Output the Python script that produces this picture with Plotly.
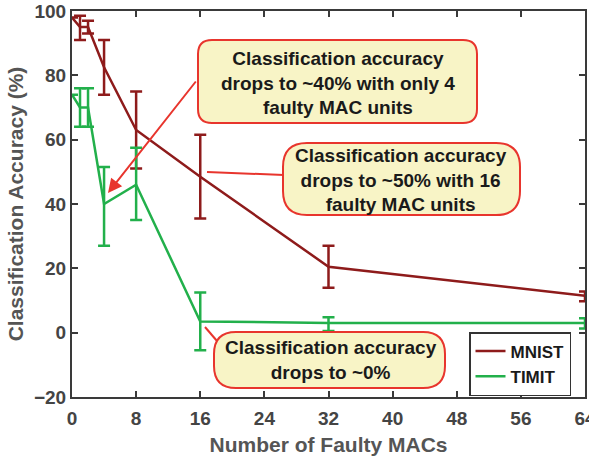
import plotly.graph_objects as go

# ---- data ----
faulty_macs = [0, 1, 2, 4, 8, 16, 32, 64]
mnist_acc = [98, 95, 95, 82.5, 63, 48.5, 20.5, 11.5]
mnist_upper = [98, 98.5, 97, 91, 75, 61.5, 27, 12.8]
mnist_lower = [98, 91, 93, 74, 51, 35.5, 14, 9.8]
timit_acc = [74, 70, 70, 40, 46, 3.5, 3, 3]
timit_upper = [74, 76, 76, 51.5, 57.5, 12.5, 4.8, 4.5]
timit_lower = [74, 64, 64, 27, 35, -5.5, 0.5, 1.3]
x_ticks = [0, 8, 16, 24, 32, 40, 48, 56, 64]
y_ticks = [-20, 0, 20, 40, 60, 80, 100]

note_4 = "Classification accuracy<br>drops to ~40% with only 4<br>faulty MAC units"
note_16 = "Classification accuracy<br>drops to ~50% with 16<br>faulty MAC units"
note_0 = "Classification accuracy<br>drops to ~0%"

W, H = 589, 459
L, R, T, B = 72, 4, 11, 62
PW, PH = W - L - R, H - T - B

MN_COL = "#8E1B1B"
TI_COL = "#22B04B"
RED = "#E8352D"
FILL = "#F8F4C6"
FONT = "Liberation Sans, Arial, sans-serif"


def px(x):
    return (x - L) / PW


def py(y):
    return (H - B - y) / PH


def rounded_rect(x0, y0, x1, y1, r):
    rx, ry = r / PW, r / PH
    X0, X1 = px(x0), px(x1)
    Yt, Yb = py(y0), py(y1)
    return (f"M {X0+rx},{Yt} L {X1-rx},{Yt} Q {X1},{Yt} {X1},{Yt-ry} "
            f"L {X1},{Yb+ry} Q {X1},{Yb} {X1-rx},{Yb} "
            f"L {X0+rx},{Yb} Q {X0},{Yb} {X0},{Yb+ry} "
            f"L {X0},{Yt-ry} Q {X0},{Yt} {X0+rx},{Yt} Z")


def err(vals, up, lo):
    return ([u - v for u, v in zip(up, vals)], [v - l for v, l in zip(vals, lo)])


fig = go.Figure()
mp, mm = err(mnist_acc, mnist_upper, mnist_lower)
tp, tm = err(timit_acc, timit_upper, timit_lower)
fig.add_trace(go.Scatter(
    x=faulty_macs, y=mnist_acc, mode="lines", name="MNIST", cliponaxis=False,
    line=dict(color=MN_COL, width=2.5),
    error_y=dict(type="data", symmetric=False, array=mp, arrayminus=mm,
                 color=MN_COL, thickness=2.5, width=6)))
fig.add_trace(go.Scatter(
    x=faulty_macs, y=timit_acc, mode="lines", name="TIMIT", cliponaxis=False,
    line=dict(color=TI_COL, width=2.5),
    error_y=dict(type="data", symmetric=False, array=tp, arrayminus=tm,
                 color=TI_COL, thickness=2.5, width=6)))

shapes = []
# connector lines
shapes.append(dict(type="line", xref="paper", yref="paper",
                   x0=px(207), y0=py(172), x1=px(284), y1=py(175),
                   line=dict(color=RED, width=2)))
shapes.append(dict(type="line", xref="paper", yref="paper",
                   x0=px(205), y0=py(327), x1=px(217), y1=py(341),
                   line=dict(color=RED, width=2)))
# boxes
for (x0, y0, x1, y1, r) in [(198, 40, 477, 123, 14), (283, 143, 520, 215, 24),
                            (214, 332, 445, 388, 22)]:
    shapes.append(dict(type="path", xref="paper", yref="paper",
                       path=rounded_rect(x0, y0, x1, y1, r),
                       fillcolor=FILL, line=dict(color=RED, width=2)))

TXT = dict(family=FONT, size=19, color="#1a1a1a", weight="bold")
annotations = [
    dict(xref="paper", yref="paper", x=px(108), y=py(193), ax=197 - 108, ay=80 - 193,
         axref="pixel", ayref="pixel", text="", showarrow=True, arrowhead=2,
         arrowsize=1.4, arrowwidth=2, arrowcolor=RED),
    dict(xref="paper", yref="paper", x=px(338), y=py(83), text=note_4,
         xanchor="center", yanchor="middle", showarrow=False, font=TXT),
    dict(xref="paper", yref="paper", x=px(401), y=py(180), text=note_16,
         xanchor="center", yanchor="middle", showarrow=False, font=TXT),
    dict(xref="paper", yref="paper", x=px(331), y=py(360), text=note_0,
         xanchor="center", yanchor="middle", showarrow=False, font=TXT),
]

axis_common = dict(showline=True, linecolor="#3a3a3a", linewidth=2, mirror="ticks",
                   ticks="inside", ticklen=6, tickwidth=1.5, tickcolor="#3a3a3a",
                   showgrid=False, zeroline=False, automargin=False,
                   ticklabeloverflow="allow",
                   tickfont=dict(family=FONT, size=19, color="#444444", weight="bold"))

fig.update_layout(
    width=W, height=H, margin=dict(l=L, r=R, t=T, b=B),
    paper_bgcolor="white", plot_bgcolor="white",
    shapes=shapes, annotations=annotations,
    xaxis=dict(range=[0, 64], tickvals=x_ticks, **axis_common, ticklabelstandoff=3,
               title=dict(text="Number of Faulty MACs", standoff=10,
                          font=dict(family=FONT, size=21, color="#555555", weight="bold"))),
    yaxis=dict(range=[-20, 100], tickvals=y_ticks, **axis_common,
               title=dict(text="Classification Accuracy (%)", standoff=5,
                          font=dict(family=FONT, size=21, color="#555555", weight="bold"))),
    legend=dict(x=px(469), y=py(332), xanchor="left", yanchor="top",
                bgcolor="white", bordercolor="#333333", borderwidth=1.5,
                font=dict(family=FONT, size=17, color="#1a1a1a", weight="bold"),
                itemwidth=30, tracegroupgap=0),
    showlegend=True,
)

fig.write_html("out.html", config={"displayModeBar": False},
               post_script="document.body.style.margin='0';document.body.style.overflow='hidden';")
